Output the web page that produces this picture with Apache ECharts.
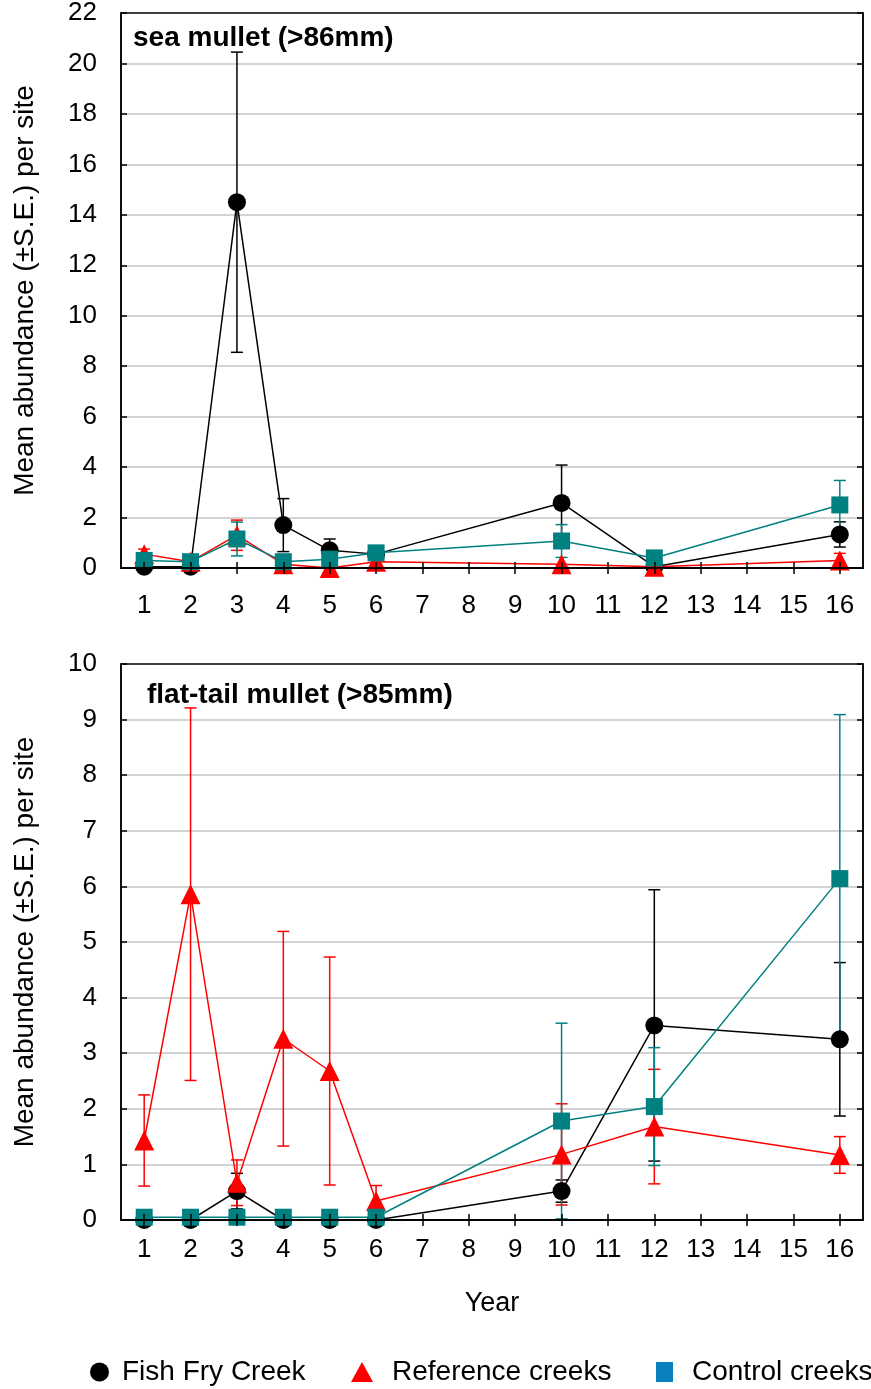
<!DOCTYPE html>
<html>
<head>
<meta charset="utf-8">
<script src="https://cdn.jsdelivr.net/npm/echarts@6/dist/echarts.min.js"></script>
<style>
html,body{margin:0;padding:0;background:#fff;}
#chart{width:871px;height:1389px;}
</style>
</head>
<body>
<div id="chart"></div>
<script>
// Category labels along the x axis (years)
const categories = ['1','2','3','4','5','6','7','8','9','10','11','12','13','14','15','16'];
// Years actually sampled
const sampledYears = [1, 2, 3, 4, 5, 6, 10, 12, 16];

// Sea mullet (>86mm)
const seaFish     = [0.05, 0.05, 14.5, 1.7, 0.7, 0.55, 2.58, 0.05, 1.33];
const seaFishSE   = [0, 0, 5.95, 1.05, 0.45, 0, 1.5, 0, 0.5];
const seaRef      = [0.55, 0.25, 1.3, 0.15, 0.0, 0.25, 0.15, 0.05, 0.3];
const seaRefSE    = [0.2, 0, 0.6, 0, 0, 0, 0, 0, 0.28];
const seaCtrl     = [0.3, 0.25, 1.15, 0.25, 0.35, 0.6, 1.07, 0.4, 2.5];
const seaCtrlSE   = [0, 0, 0.67, 0, 0, 0, 0.65, 0, 0.97];

// Flat-tail mullet (>85mm)
const flatFish    = [0, 0, 0.52, 0, 0, 0, 0.52, 3.5, 3.25];
const flatFishSE  = [0, 0, 0.32, 0, 0, 0, 0.2, 2.44, 1.38];
const flatRef     = [1.43, 5.86, 0.67, 3.26, 2.68, 0.34, 1.18, 1.68, 1.17];
const flatRefSE   = [0.82, 3.35, 0.41, 1.93, 2.05, 0.28, 0.91, 1.03, 0.33];
const flatCtrl    = [0.05, 0.05, 0.05, 0.05, 0.05, 0.05, 1.78, 2.04, 6.14];
const flatCtrlSE  = [0, 0, 0, 0, 0, 0, 1.76, 1.06, 2.95];

const seriesNames = ['Fish Fry Creek', 'Reference creeks', 'Control creeks'];
const panelTitles = ['sea mullet (>86mm)', 'flat-tail mullet (>85mm)'];
const yAxisTitle = 'Mean abundance (\u00B1S.E.) per site';
const xAxisTitle = 'Year';

const FONT = 'Liberation Sans';
const COLORS = ['#000000', '#FF0000', '#008080'];
const LEGEND_COLORS = ['#000000', '#FF0000', '#0A80C0'];
const SYMBOLS = ['circle', 'triangle', 'rect'];
const SYMBOL_SIZES = [18, 20, 17];

function fullSeries(vals) {
  const arr = categories.map(() => null);
  sampledYears.forEach((y, i) => { arr[y - 1] = vals[i]; });
  return arr;
}
function errData(vals, se) {
  const out = [];
  sampledYears.forEach((y, i) => {
    if (se[i] > 0) out.push([y - 1, vals[i] - se[i], vals[i] + se[i]]);
  });
  return out;
}
function errSeries(gi, vals, se, color) {
  return {
    type: 'custom', xAxisIndex: gi * 2, yAxisIndex: gi * 2, z: 2, silent: true,
    data: errData(vals, se),
    encode: { x: 0, y: [1, 2] },
    renderItem: function (params, api) {
      const x = api.value(0);
      const lo = api.coord([x, api.value(1)]);
      const hi = api.coord([x, api.value(2)]);
      const cap = 6;
      const style = { stroke: color, lineWidth: 1.5 };
      return {
        type: 'group',
        children: [
          { type: 'line', shape: { x1: lo[0], y1: lo[1], x2: hi[0], y2: hi[1] }, style: style },
          { type: 'line', shape: { x1: hi[0] - cap, y1: hi[1], x2: hi[0] + cap, y2: hi[1] }, style: style },
          { type: 'line', shape: { x1: lo[0] - cap, y1: lo[1], x2: lo[0] + cap, y2: lo[1] }, style: style }
        ]
      };
    }
  };
}
function lineSeries(gi, k, vals) {
  return {
    type: 'line', name: seriesNames[k], xAxisIndex: gi * 2, yAxisIndex: gi * 2,
    data: fullSeries(vals), connectNulls: true, z: 3 + k,
    symbol: SYMBOLS[k], symbolSize: SYMBOL_SIZES[k], showAllSymbol: true,
    itemStyle: { color: COLORS[k] },
    lineStyle: { color: COLORS[k], width: 1.5 },
    emphasis: { disabled: true }, animation: false
  };
}

const grids = [
  { left: 121, top: 12, width: 742, height: 556, show: true, borderColor: '#000', borderWidth: 1.5, backgroundColor: 'transparent' },
  { left: 121, top: 664, width: 742, height: 556, show: true, borderColor: '#000', borderWidth: 1.5, backgroundColor: 'transparent' }
];
const yRanges = [{ max: 22, interval: 2 }, { max: 10, interval: 1 }];
const xLabelMargins = [25, 17];

const xAxes = [], yAxes = [];
[0, 1].forEach(gi => {
  xAxes.push({
    type: 'category', gridIndex: gi, data: categories, boundaryGap: true, position: 'bottom', z: 10,
    axisLine: { show: true, lineStyle: { color: '#000', width: 1.5 } },
    axisTick: { show: true, inside: true, alignWithLabel: true, length: 6, lineStyle: { color: '#000', width: 1.5 } },
    axisLabel: { fontFamily: FONT, fontSize: 26, color: '#000', margin: xLabelMargins[gi] },
    name: gi === 1 ? xAxisTitle : '', nameLocation: 'middle', nameGap: 70,
    nameTextStyle: { fontFamily: FONT, fontSize: 27, color: '#000' }
  });
  xAxes.push({
    type: 'category', gridIndex: gi, data: categories, boundaryGap: true, position: 'top', z: 10,
    axisLine: { show: true, lineStyle: { color: '#000', width: 1.5 } },
    axisTick: { show: true, inside: true, alignWithLabel: true, length: 6, lineStyle: { color: '#000', width: 1.5 } },
    axisLabel: { show: false }
  });
  yAxes.push({
    type: 'value', gridIndex: gi, min: 0, max: yRanges[gi].max, interval: yRanges[gi].interval, position: 'left',
    axisLine: { show: true, lineStyle: { color: '#000', width: 1.5 } },
    axisTick: { show: true, inside: true, length: 6, lineStyle: { color: '#000', width: 1.5 } },
    axisLabel: { fontFamily: FONT, fontSize: 26, color: '#000', margin: 24 },
    splitLine: { show: true, showMinLine: false, showMaxLine: false, lineStyle: { color: '#C4C4C4', width: 1.5 } },
    name: yAxisTitle, nameLocation: 'middle', nameGap: 82,
    nameTextStyle: { fontFamily: FONT, fontSize: 28, color: '#000' }
  });
  yAxes.push({
    type: 'value', gridIndex: gi, min: 0, max: yRanges[gi].max, interval: yRanges[gi].interval, position: 'right',
    axisLine: { show: true, lineStyle: { color: '#000', width: 1.5 } },
    axisTick: { show: true, inside: true, length: 6, lineStyle: { color: '#000', width: 1.5 } },
    axisLabel: { show: false }, splitLine: { show: false }
  });
});

const panels = [
  [seaFish, seaFishSE, seaRef, seaRefSE, seaCtrl, seaCtrlSE],
  [flatFish, flatFishSE, flatRef, flatRefSE, flatCtrl, flatCtrlSE]
];
const series = [];
panels.forEach((p, gi) => {
  for (let k = 0; k < 3; k++) series.push(errSeries(gi, p[2 * k], p[2 * k + 1], COLORS[k]));
  for (let k = 0; k < 3; k++) series.push(lineSeries(gi, k, p[2 * k]));
});

const legendPos = [
  { left: 85, gap: 13, w: 19, h: 19 },
  { left: 346, gap: 19, w: 22, h: 20 },
  { left: 651, gap: 19, w: 17, h: 20 }
];
const legends = seriesNames.map((n, k) => ({
  left: legendPos[k].left, top: 1353, orient: 'horizontal', selectedMode: false,
  itemWidth: legendPos[k].w, itemHeight: legendPos[k].h, itemGap: 0,
  formatter: function (name) { return '{g|}{t|' + name + '}'; },
  textStyle: {
    fontFamily: FONT, fontSize: 28, color: '#000',
    rich: {
      g: { width: legendPos[k].gap - 5 },
      t: { fontFamily: FONT, fontSize: 28, color: '#000' }
    }
  },
  itemStyle: { color: LEGEND_COLORS[k] },
  data: [{ name: n, icon: SYMBOLS[k], itemStyle: { color: LEGEND_COLORS[k] } }]
}));

const option = {
  backgroundColor: '#fff',
  animation: false,
  title: [
    { text: panelTitles[0], left: 133, top: 24, textStyle: { fontFamily: FONT, fontSize: 28, fontWeight: 'bold', color: '#000' }, padding: 0 },
    { text: panelTitles[1], left: 147, top: 681, textStyle: { fontFamily: FONT, fontSize: 28, fontWeight: 'bold', color: '#000' }, padding: 0 }
  ],
  legend: legends,
  grid: grids,
  xAxis: xAxes,
  yAxis: yAxes,
  series: series
};

const chart = echarts.init(document.getElementById('chart'), null, { renderer: 'canvas' });
chart.setOption(option);
</script>
</body>
</html>
